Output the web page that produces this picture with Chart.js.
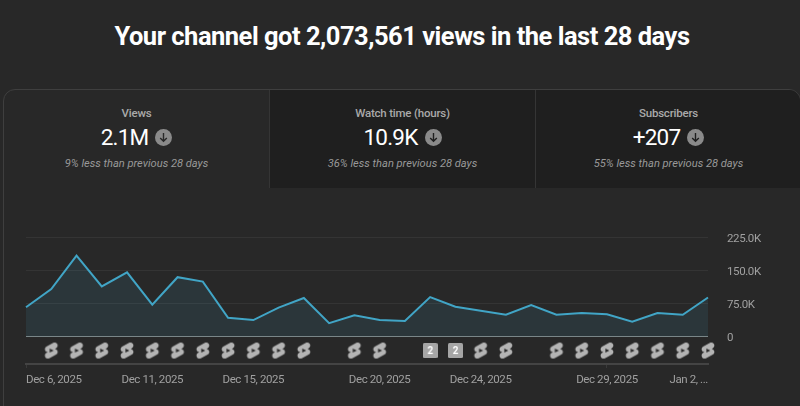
<!DOCTYPE html>
<html>
<head>
<meta charset="utf-8">
<title>Channel analytics</title>
<script src="https://cdn.jsdelivr.net/npm/chart.js@4/dist/chart.umd.min.js"></script>
<style>
  html, body { margin: 0; padding: 0; background: #282828; }
  body { width: 800px; height: 406px; overflow: hidden; position: relative; font-family: Roboto, sans-serif; }
  h1 { position: absolute; left: 0; top: 19px; width: 804px; margin: 0; text-align: center; color: #fff; font-size: 25.5px; line-height: 34px; font-weight: 700; letter-spacing: -0.5px; }
  .card { position: absolute; left: 3px; top: 89px; width: 796px; height: 340px; border: 1px solid #3f3f3f; border-radius: 12px; overflow: hidden; }
  .tab { position: absolute; top: 0; height: 98px; text-align: center; background: #1f1f1f; box-sizing: border-box; }
  .tab.active { background: transparent; }
  .tab + .tab { border-left: 1px solid #353535; }
  .tab .name { position: absolute; left: 0; right: 0; top: 15px; color: #aaa; font-size: 11.5px; letter-spacing: -0.2px; line-height: 16px; font-weight: 500; }
  .tab .value { position: absolute; left: 0; right: 0; top: 31px; color: #fff; font-size: 22.5px; letter-spacing: -0.8px; line-height: 32px; display: flex; justify-content: center; align-items: center; gap: 7px; }
  .tab .note { position: absolute; left: 0; right: 0; top: 66px; color: #999; font-size: 11.1px; line-height: 16px; font-style: italic; }
  canvas#chart { position: absolute; left: 0; top: 0; }
</style>
</head>
<body>
<h1>Your channel got 2,073,561 views in the last 28 days</h1>
<div class="card">
  <div class="tab active" style="left:0;width:265px">
    <div class="name">Views</div>
    <div class="value">2.1M <svg width="17" height="17" viewBox="0 0 17 17"><circle cx="8.5" cy="8.5" r="8.5" fill="#8a8a8a"/><path d="M8.5 4v8M5.2 8.9l3.3 3.3 3.3-3.3" fill="none" stroke="#282828" stroke-width="1.4"/></svg></div>
    <div class="note">9% less than previous 28 days</div>
  </div>
  <div class="tab" style="left:265px;width:266px">
    <div class="name">Watch time (hours)</div>
    <div class="value">10.9K <svg width="17" height="17" viewBox="0 0 17 17"><circle cx="8.5" cy="8.5" r="8.5" fill="#8a8a8a"/><path d="M8.5 4v8M5.2 8.9l3.3 3.3 3.3-3.3" fill="none" stroke="#1f1f1f" stroke-width="1.4"/></svg></div>
    <div class="note">36% less than previous 28 days</div>
  </div>
  <div class="tab" style="left:531px;width:266px">
    <div class="name">Subscribers</div>
    <div class="value">+207 <svg width="17" height="17" viewBox="0 0 17 17"><circle cx="8.5" cy="8.5" r="8.5" fill="#8a8a8a"/><path d="M8.5 4v8M5.2 8.9l3.3 3.3 3.3-3.3" fill="none" stroke="#1f1f1f" stroke-width="1.4"/></svg></div>
    <div class="note">55% less than previous 28 days</div>
  </div>
</div>
<canvas id="chart" width="800" height="406"></canvas>

<script>
const days = [
  "Dec 6, 2025", "Dec 7, 2025", "Dec 8, 2025", "Dec 9, 2025", "Dec 10, 2025", "Dec 11, 2025", "Dec 12, 2025",
  "Dec 13, 2025", "Dec 14, 2025", "Dec 15, 2025", "Dec 16, 2025", "Dec 17, 2025", "Dec 18, 2025", "Dec 19, 2025",
  "Dec 20, 2025", "Dec 21, 2025", "Dec 22, 2025", "Dec 23, 2025", "Dec 24, 2025", "Dec 25, 2025", "Dec 26, 2025",
  "Dec 27, 2025", "Dec 28, 2025", "Dec 29, 2025", "Dec 30, 2025", "Dec 31, 2025", "Jan 1, 2026", "Jan 2, 2026"
];
const views = [
  66000, 107000, 183000, 113000, 145000, 72000, 134000,
  124000, 42000, 37000, 65000, 87000, 30000, 48000,
  37000, 35000, 89000, 67000, 58000, 49000, 71000,
  49000, 53000, 50000, 33000, 53000, 49000, 88000
];
const shortsDays = [1, 2, 3, 4, 5, 6, 7, 8, 9, 10, 11, 13, 14, 18, 19, 21, 22, 23, 24, 25, 26, 27];
const doubleUploadDays = [16, 17];
const xTickDays = [0, 5, 9, 14, 18, 23, 27];
const xTickLabels = ["Dec 6, 2025", "Dec 11, 2025", "Dec 15, 2025", "Dec 20, 2025", "Dec 24, 2025", "Dec 29, 2025", "Jan 2, ..."];
const yTickValues = [0, 75000, 150000, 225000];
const yTickLabels = ["0", "75.0K", "150.0K", "225.0K"];

// upload markers sit in a strip below zero, the axis runs on down to the date line
const MARKER_ROW = -32000;
const AXIS_MIN = -62500;

const shortsPath = new Path2D("M17.77 10.32l-1.2-.5L18 9.06c1.84-.96 2.53-3.23 1.56-5.06s-3.24-2.53-5.07-1.56L6 6.94c-1.29.68-2.07 2.04-2 3.49.07 1.42.93 2.67 2.22 3.25.03.01 1.2.5 1.2.5L6 14.93c-1.83.97-2.53 3.24-1.56 5.07.97 1.83 3.24 2.53 5.07 1.56l8.5-4.5c1.29-.68 2.06-2.04 1.99-3.49-.07-1.42-.94-2.68-2.23-3.25zM10 14.65v-5.3L15 12l-5 2.65z");

function shortsIcon() {
  const c = document.createElement("canvas");
  c.width = 20;
  c.height = 20;
  const g = c.getContext("2d");
  g.translate(0.4, 0.4);
  g.scale(0.8, 0.8);
  g.fillStyle = "#b4b4b4";
  g.fill(shortsPath, "evenodd");
  return c;
}

function countBadge(text) {
  const c = document.createElement("canvas");
  c.width = 15;
  c.height = 15;
  const g = c.getContext("2d");
  g.fillStyle = "#a6a6a6";
  g.beginPath();
  g.roundRect(0, 0, 15, 15, 1.5);
  g.fill();
  g.fillStyle = "#fff";
  g.font = "700 10px Roboto";
  g.textAlign = "center";
  g.textBaseline = "middle";
  g.fillText(text, 7.5, 8);
  return c;
}

function markerData(list) {
  return list.map(i => ({ x: days[i], y: MARKER_ROW }));
}

// axis labels are set a little tighter than the font's default
const tightLabels = {
  id: "tightLabels",
  beforeDraw(chart) {
    chart.ctx.letterSpacing = "-0.4px";
  }
};

new Chart(document.getElementById("chart"), {
  type: "line",
  plugins: [tightLabels],
  data: {
    labels: days,
    datasets: [
      {
        label: "Views",
        data: views,
        borderColor: "#41a5c6",
        borderWidth: 2,
        backgroundColor: "rgba(70, 170, 205, 0.11)",
        fill: "origin",
        tension: 0,
        pointRadius: 0,
        clip: false
      },
      {
        label: "Shorts",
        data: markerData(shortsDays),
        showLine: false,
        pointStyle: shortsIcon(),
        pointRadius: 8,
        clip: false
      },
      {
        label: "Uploads",
        data: markerData(doubleUploadDays),
        showLine: false,
        pointStyle: countBadge("2"),
        pointRadius: 8,
        clip: false
      }
    ]
  },
  options: {
    responsive: false,
    animation: false,
    events: [],
    layout: { padding: { left: 26, top: 237, right: 0, bottom: 0 } },
    plugins: { legend: { display: false }, tooltip: { enabled: false } },
    scales: {
      x: {
        type: "category",
        offset: false,
        afterFit: scale => { scale.height = 42; },
        border: { color: "#444", width: 2 },
        grid: {
          drawOnChartArea: false,
          tickLength: 4,
          tickColor: ctx => xTickDays.includes(ctx.index) ? "#3a3a3a" : "transparent"
        },
        ticks: {
          autoSkip: false,
          maxRotation: 0,
          minRotation: 0,
          align: "inner",
          padding: 5,
          color: "#a0a0a0",
          font: { family: "Roboto", size: 11.5 },
          callback: (value, index) => {
            const at = xTickDays.indexOf(index);
            return at < 0 ? null : xTickLabels[at];
          }
        }
      },
      y: {
        position: "right",
        min: AXIS_MIN,
        max: 225000,
        afterFit: scale => { scale.width = 92; },
        afterBuildTicks: scale => { scale.ticks = yTickValues.map(value => ({ value })); },
        border: { display: false },
        grid: {
          drawTicks: false,
          tickLength: 0,
          lineWidth: 1,
          color: ctx => ctx.tick && ctx.tick.value === 0 ? "#7d8585" : "#343434"
        },
        ticks: {
          padding: 19,
          labelOffset: 2,
          color: "#a0a0a0",
          font: { family: "Roboto", size: 11.5 },
          callback: value => yTickLabels[yTickValues.indexOf(value)]
        }
      }
    }
  }
});
</script>
</body>
</html>
